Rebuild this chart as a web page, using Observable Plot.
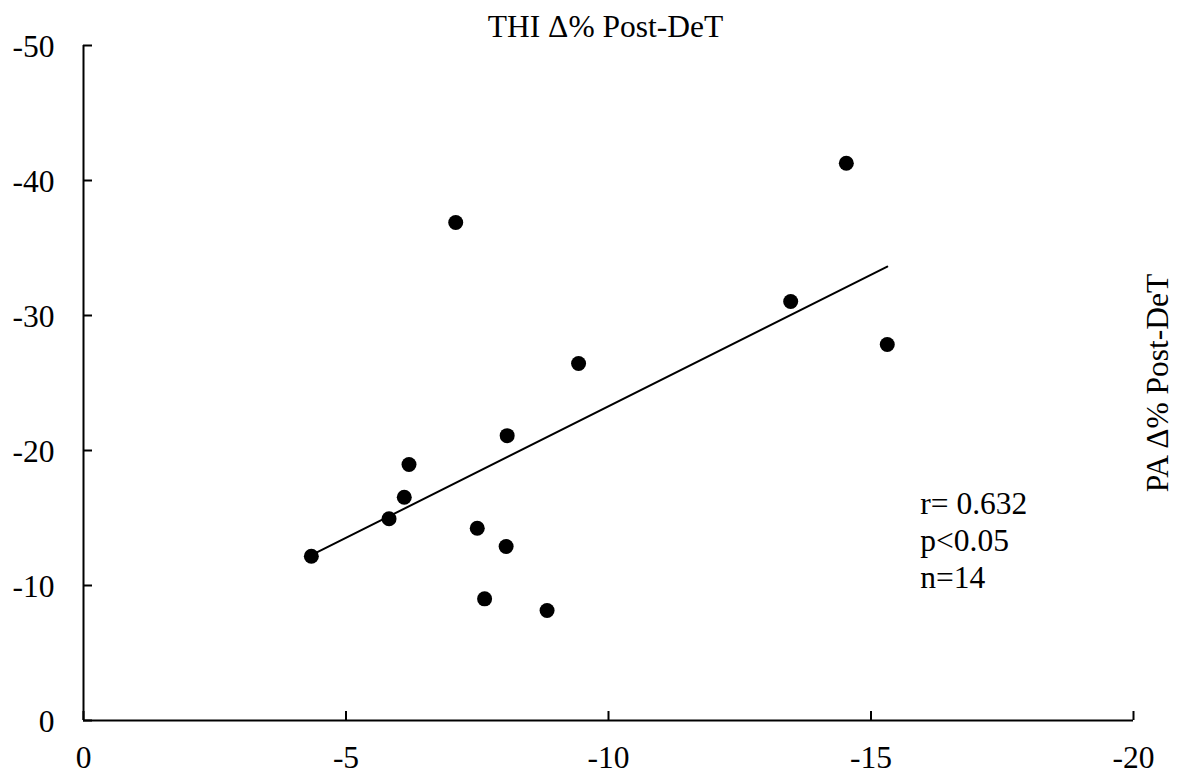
<!DOCTYPE html>
<html>
<head>
<meta charset="utf-8">
<script src="https://cdn.jsdelivr.net/npm/d3@7"></script>
<script src="https://cdn.jsdelivr.net/npm/@observablehq/plot@0.6"></script>
<style>
  html, body { margin: 0; padding: 0; background: #fff; }
  svg { display: block; }
</style>
</head>
<body>
<div id="chart"></div>
<script>
// THI Δ% Post-DeT (x) vs PA Δ% Post-DeT (y)
const thi = [-4.34, -5.82, -6.11, -6.20, -7.09, -7.50, -7.64, -8.05, -8.07, -8.83, -9.43, -13.47, -14.53, -15.31];
const pa  = [-12.17, -14.94, -16.54, -18.96, -36.89, -14.24, -9.01, -12.89, -21.10, -8.15, -26.44, -31.04, -41.28, -27.85];
const xTicks = [0, -5, -10, -15, -20];
const yTicks = [0, -10, -20, -30, -40, -50];
const titleText = "THI Δ% Post-DeT";
const yLabelText = "PA Δ% Post-DeT";
const statsText = ["r= 0.632", "p<0.05", "n=14"];

const data = thi.map((x, i) => ({x, y: pa[i]}));

const W = 1178, H = 774;
const mL = 83, mR = 45, mT = 45, mB = 54;
const frameW = W - mL - mR, frameH = H - mT - mB;
const tick = 9;
const fs = 31.5;
const font = "'Liberation Serif', 'Times New Roman', Times, serif";
const fmt = d => String(d); // ASCII hyphen-minus as in the reference

const chart = Plot.plot({
  width: W,
  height: H,
  marginLeft: mL,
  marginRight: mR,
  marginTop: mT,
  marginBottom: mB,
  style: {fontFamily: font, fontSize: fs + "px", color: "black", background: "white"},
  x: {domain: [0, -20], ticks: xTicks},
  y: {domain: [0, -50], ticks: yTicks},
  marks: [
    Plot.axisX(xTicks, {tickSize: 0, tickPadding: 25, fontSize: fs, tickFormat: fmt, label: null}),
    Plot.axisY(yTicks, {tickSize: 0, tickPadding: 29, fontSize: fs, tickFormat: fmt, label: null, dy: 1}),
    // axis lines
    Plot.ruleY([0], {stroke: "black", strokeWidth: 2}),
    Plot.ruleX([0], {stroke: "black", strokeWidth: 2}),
    // inward ticks
    Plot.ruleX(xTicks, {x: d => d, insetTop: frameH - tick, stroke: "black", strokeWidth: 2}),
    Plot.ruleY(yTicks, {y: d => d, insetRight: frameW - tick, stroke: "black", strokeWidth: 2}),
    // regression line
    Plot.linearRegressionY(data, {x: "x", y: "y", ci: 0, stroke: "black", strokeWidth: 2}),
    // points
    Plot.dot(data, {x: "x", y: "y", r: 7.5, fill: "black", stroke: "none"}),
    // title
    Plot.text([titleText], {frameAnchor: "top", textAnchor: "middle", lineAnchor: "bottom", dy: -9, dx: -3, fontSize: fs, fill: "black"}),
    // right y label
    Plot.text([yLabelText], {frameAnchor: "right", textAnchor: "middle", rotate: -90, dx: 24, dy: 0, lineAnchor: "middle", fontSize: fs, fill: "black"}),
    // stats annotation
    Plot.text([statsText.join("\n")], {x: -15.94, y: -9.78, textAnchor: "start", lineAnchor: "bottom", lineHeight: 1.175, fontSize: fs, fill: "black"})
  ]
});

document.getElementById("chart").appendChild(chart);
</script>
</body>
</html>
